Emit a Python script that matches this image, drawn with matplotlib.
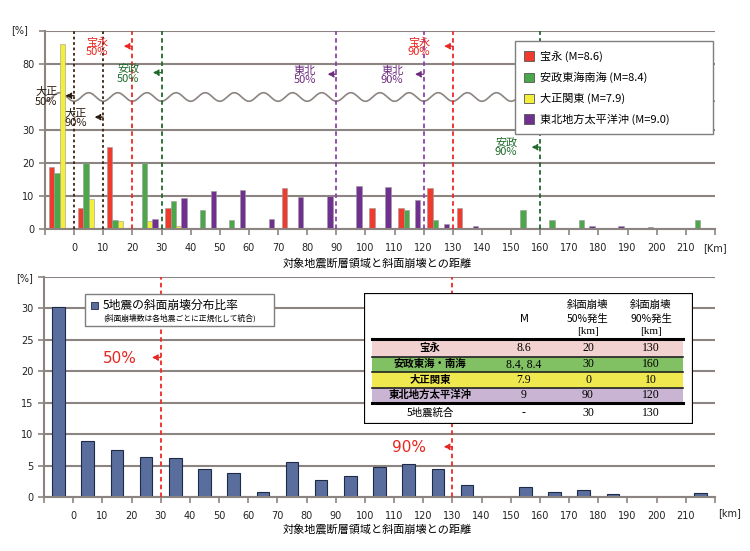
import matplotlib.pyplot as plt
import matplotlib.patches as mpatches
import numpy as np

plt.rcParams['font.family'] = ['DejaVu Sans', 'Noto Sans CJK JP']
JP = ['Noto Sans CJK JP', 'DejaVu Sans']
SERIF = ['Liberation Serif', 'Noto Sans CJK JP']

# distance bins (lower edge, km); first bin = inside the fault area
BIN_LEFT = list(range(-10, 220, 10))
TICKS = list(range(-10, 230, 10))

# top chart: share of landslides per quake [%]
HOEI = [18.75, 6.25, 25, 0, 6.25, 0, 0, 0, 12.5, 0, 0, 6.25,
        6.25, 12.5, 6.25, 0, 0, 0, 0, 0, 0, 0, 0]
ANSEI = [17.1, 20, 2.86, 20, 8.57, 5.71, 2.86, 0, 0, 0, 0, 0,
         5.71, 2.86, 0, 0, 5.71, 2.86, 2.86, 0, 0, 0, 2.86]
TAISHO = [86, 9.0, 2.3, 2.3, 0.8, 0, 0, 0, 0, 0, 0, 0,
          0, 0, 0, 0, 0, 0, 0, 0, 0, 0, 0]
TOHOKU = [0, 0, 0.2, 3.0, 9.3, 11.5, 11.8, 3.0, 9.7, 9.9, 12.9, 12.6,
          8.8, 1.5, 0.8, 0.2, 0.2, 0.2, 0.8, 1.0, 0.5, 0, 0]
TOP_LABELS = ['宝永 (M=8.6)', '安政東海南海 (M=8.4)', '大正関東 (M=7.9)', '東北地方太平洋沖 (M=9.0)']
TOP_COLORS = ['#ee3b2e', '#4ca64a', '#f2ee3a', '#6f3090']
TOP_YTICKS = [0, 10, 20, 30, 80, 90]
TOP_YLABELS = ['0', '10', '20', '30', '80', '']

# 50% / 90% distances per quake (km)
LINES = [  # (km, color, text, text color, text km, text y)
    (0, '#3b2314', '大正\n50%', '#2b1a0e', -9.6, 40.0),
    (10, '#3b2314', '大正\n90%', '#2b1a0e', 0.4, 33.5),
    (20, '#ee2a24', '宝永\n50%', '#e8251f', 7.9, 55.0),
    (130, '#ee2a24', '宝永\n90%', '#e8251f', 118.4, 55.0),
    (30, '#23672e', '安政\n50%', '#1f6b2b', 18.5, 47.0),
    (160, '#23672e', '安政\n90%', '#1f6b2b', 148.3, 24.8),
    (90, '#8e44a8', '東北\n50%', '#6b2a7c', 79.3, 46.5),
    (120, '#8e44a8', '東北\n90%', '#6b2a7c', 109.2, 46.5),
]

# bottom chart: combined distribution of 5 quakes [%]
COMBINED = [30.3, 8.9, 7.55, 6.4, 6.2, 4.4, 3.8, 0.85, 5.5, 2.65, 3.3, 4.85,
            5.3, 4.4, 1.85, 0, 1.6, 0.85, 1.05, 0.4, 0, 0, 0.7]
COMB_50, COMB_90 = 30, 130

# summary table
TABLE_NAMES = ['宝永', '安政東海・南海', '大正関東', '東北地方太平洋沖', '5地震統合']
TABLE_M = ['8.6', '8.4, 8.4', '7.9', '9', '-']
TABLE_50 = ['20', '30', '0', '90', '30']
TABLE_90 = ['130', '160', '10', '120', '130']
ROW_COLORS = ['#f2d2d0', '#82c064', '#efe94f', '#c9b5d3', 'white']

GRID = '#8c8480'
XLABEL = '対象地震断層領域と斜面崩壊との距離'


def to_disp(v):
    # broken axis: values above 40 are shifted down by 30
    v = np.asarray(v, dtype=float)
    return np.where(v > 40, v - 30, v)


def style_axis(ax, yticks, ylabels, ylim):
    ax.set_xlim(-10, 220)
    ax.set_ylim(*ylim)
    ax.set_yticks(yticks)
    ax.set_yticklabels(ylabels)
    ax.set_xticks(TICKS)
    for s in ['top', 'right']:
        ax.spines[s].set_visible(False)
    for s in ['left', 'bottom']:
        ax.spines[s].set_color(GRID)
        ax.spines[s].set_linewidth(1.5)
    ax.tick_params(axis='both', colors=GRID, labelcolor='#222222', labelsize=7,
                   length=4, width=1.2, direction='out')
    ax.tick_params(axis='x', pad=6)
    ax.tick_params(axis='y', pad=3.5)
    ax.set_axisbelow(True)
    ax.grid(axis='y', color=GRID, lw=1.5)


def arrow(ax, x0, y, color, dx=3):
    ax.annotate('', xy=(x0 - dx, y), xytext=(x0, y),
                arrowprops=dict(arrowstyle='-|>,head_length=0.35,head_width=0.18',
                                color=color, lw=0.9, ls=(0, (1.5, 1)),
                                shrinkA=0, shrinkB=0))


fig = plt.figure(figsize=(7.5, 5.51), dpi=100)

# ---------------- top chart ----------------
ax1 = fig.add_axes([45 / 750, 1 - 229 / 551, 670 / 750, 198 / 551])
centers = np.array(BIN_LEFT) + 5
w = 1.85
series = [HOEI, ANSEI, TAISHO, TOHOKU]
for k, (vals, col, lab) in enumerate(zip(series, TOP_COLORS, TOP_LABELS)):
    ax1.bar(centers + (k - 1.5) * w, to_disp(vals), width=w, color=col,
            edgecolor='#9a9a9a', lw=0.4, label=lab, zorder=2)
style_axis(ax1, to_disp(TOP_YTICKS), TOP_YLABELS, (0, 60))
xl = [str(t) for t in TICKS]
xl[0] = ''
xl[-1] = '[Km]'
ax1.set_xticklabels(xl)

# wave marking the axis break
xs = np.linspace(-10, 220, 900)
ax1.plot(xs, 40 - 1.3 * np.cos(2 * np.pi * xs / 10), color=GRID, lw=1.2, zorder=1)

for km, lc, txt, tc, tx, ty in LINES:
    ls = (0, (1.5, 1.5)) if lc == '#3b2314' else (0, (2.5, 1.8))
    ax1.plot([km, km], [0, 60], color=lc, lw=1.3, ls=ls, zorder=3)
    ax1.text(tx, ty, txt, color=tc, fontsize=8, ha='center', va='center',
             linespacing=0.95, family=JP, zorder=4)
    arrow(ax1, km, ty + (0.4 if ty > 30 else 0), tc)

leg = ax1.legend(loc='upper left', bbox_to_anchor=(0.7015, 0.48, 0.2955, 0.469),
                 mode='expand', borderaxespad=0, fancybox=False, framealpha=1,
                 edgecolor='#7f7f7f', handlelength=0.9,
                 handleheight=0.9, handletextpad=0.5, labelspacing=0.88,
                 borderpad=0.85, prop={'family': JP, 'size': 8})
leg.get_frame().set_linewidth(1.0)
leg.set_zorder(10)
for h in leg.legend_handles:
    h.set_edgecolor('#555555')
    h.set_linewidth(0.6)

fig.text(20 / 750, 1 - 30 / 551, '[%]', fontsize=7, ha='center', va='center', color='#222222')
fig.text(377 / 750, 1 - 263 / 551, XLABEL, fontsize=8, ha='center', va='center', family=JP)

# ---------------- bottom chart ----------------
ax2 = fig.add_axes([44 / 750, 1 - 497 / 551, 671 / 750, 220 / 551])
ax2.bar(centers, COMBINED, width=4.3, color='#5a6e9e', edgecolor='#1f2a48', lw=0.8, zorder=2)
style_axis(ax2, list(range(0, 40, 5)), ['0', '5', '10', '15', '20', '25', '30', ''], (0, 35))
xl2 = [str(t) for t in TICKS]
xl2[0] = ''
xl2[-1] = ''
ax2.set_xticklabels(xl2)
ax2.text(221, -2.6, '[km]', fontsize=7, ha='left', va='center', color='#222222', clip_on=False)

for km, txt, tx, ty in [(COMB_50, '50%', 16.1, 22.0), (COMB_90, '90%', 115, 7.8)]:
    ax2.plot([km, km], [0, 35], color='#ee2a24', lw=1.3, ls=(0, (2.5, 1.8)), zorder=3)
    ax2.text(tx, ty, txt, color='#e8251f', fontsize=11, ha='center', va='center', zorder=4)
    arrow(ax2, km, ty + 0.2, '#e8251f')

# legend box of the bottom chart
ax2.add_patch(mpatches.Rectangle((0.061, 0.777), 0.282, 0.146, transform=ax2.transAxes,
                                 facecolor='white', edgecolor='#7f7f7f', lw=1.0, zorder=5))
ax2.add_patch(mpatches.Rectangle((0.070, 0.855), 0.0105, 0.031, transform=ax2.transAxes,
                                 facecolor='#5a6e9e', edgecolor='#1f2a48', lw=0.6, zorder=6))
ax2.text(0.088, 0.871, '5地震の斜面崩壊分布比率', transform=ax2.transAxes, fontsize=8.5,
         va='center', ha='left', family=JP, zorder=6)
ax2.text(0.089, 0.814, '(斜面崩壊数は各地震ごとに正規化して統合)', transform=ax2.transAxes,
         fontsize=5.6, va='center', ha='left', family=JP, zorder=6)

fig.text(25 / 750, 1 - 278 / 551, '[%]', fontsize=7, ha='center', va='center', color='#222222')
fig.text(377 / 750, 1 - 529 / 551, XLABEL, fontsize=8, ha='center', va='center', family=JP)

# ---------------- summary table ----------------
tab = fig.add_axes([364 / 750, 1 - 424 / 551, 329 / 750, 131 / 551])
tab.set_xlim(0, 329)
tab.set_ylim(131, 0)
tab.axis('off')
tab.add_patch(mpatches.Rectangle((0, 0), 329, 131, facecolor='white', edgecolor='black', lw=1.6))
col_x = [66, 160, 224, 287]
tab.text(col_x[1], 26, 'M', fontsize=7.5, ha='center', va='center')
for cx, pct in [(col_x[2], '50%'), (col_x[3], '90%')]:
    tab.text(cx, 12, '斜面崩壊', fontsize=7.5, ha='center', va='center', family=JP)
    tab.text(cx, 26, pct + '発生', fontsize=7.5, ha='center', va='center', family=JP)
    tab.text(cx, 39, '[km]', fontsize=8, ha='center', va='center', family=SERIF)
row_top = [47, 63.5, 79, 94.5, 110]
row_bot = [63.5, 79, 94.5, 110, 131]
for i, name in enumerate(TABLE_NAMES):
    if ROW_COLORS[i] != 'white':
        tab.add_patch(mpatches.Rectangle((8, row_top[i]), 311, row_bot[i] - row_top[i],
                                         facecolor=ROW_COLORS[i], edgecolor='none'))
    yc = (row_top[i] + row_bot[i]) / 2 if i < 4 else 120
    tab.text(col_x[0], yc, name, fontsize=7.5, ha='center', va='center', family=JP,
             fontweight='bold' if i < 4 else 'normal')
    for cx, val in zip(col_x[1:], [TABLE_M[i], TABLE_50[i], TABLE_90[i]]):
        tab.text(cx, yc, val, fontsize=8.5, ha='center', va='center', family=SERIF)
for y in [63.5, 79, 94.5]:
    tab.plot([8, 319], [y, y], color='#222222', lw=1.2)
for y in [46, 110]:
    tab.plot([8, 319], [y, y], color='black', lw=2.2)

fig.savefig('out.png', dpi=100)
